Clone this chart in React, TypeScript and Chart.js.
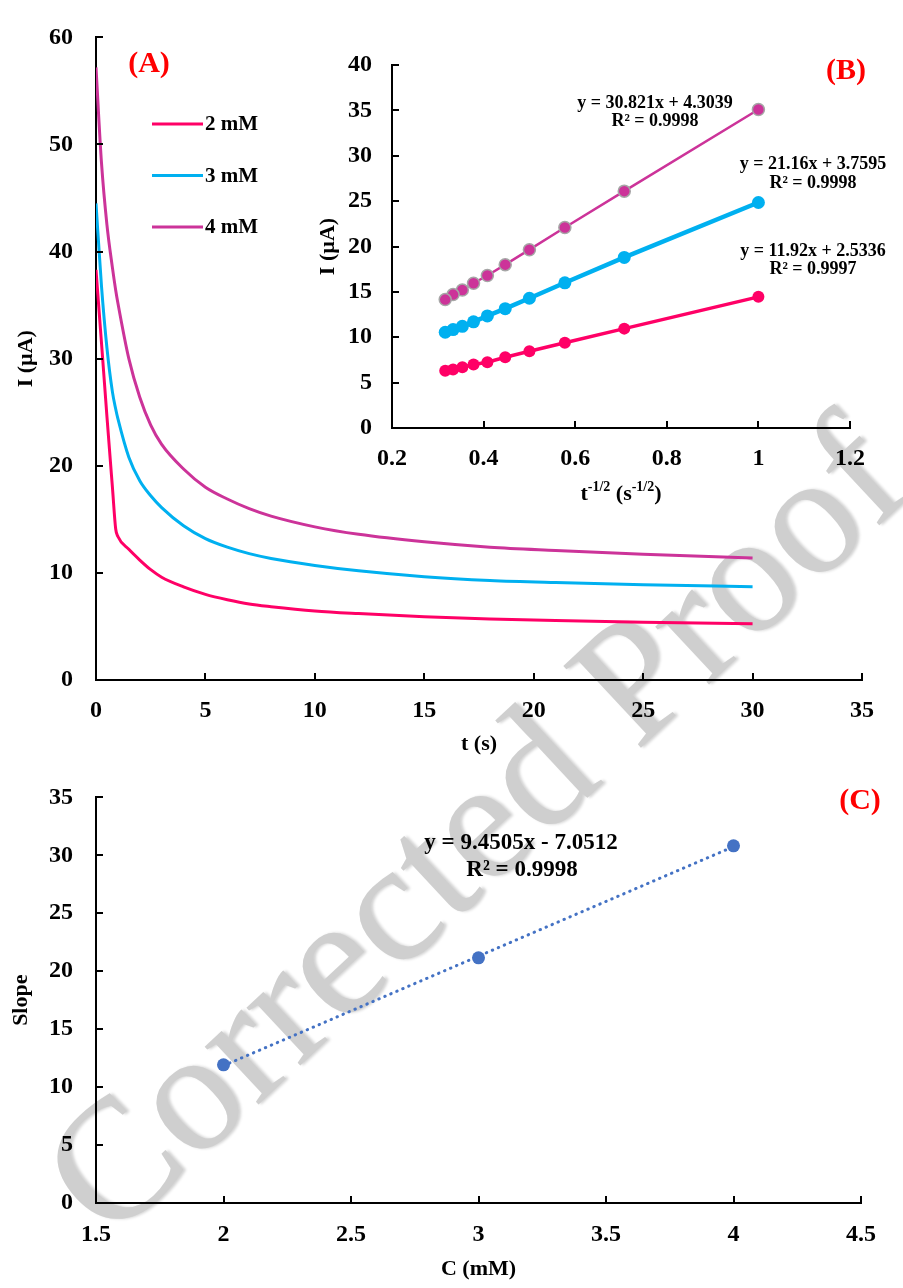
import React, { useEffect, useRef } from 'react';
import { Chart, registerables } from 'chart.js';
Chart.register(...registerables);

const FONT = '"Liberation Serif", "Times New Roman", serif';

// ---------- Panel A : chronoamperograms ----------
const seriesLabels = ['2 mM', '3 mM', '4 mM'];
const timeA = [0, 0.25, 0.5, 0.75, 0.9, 1, 1.5, 2, 2.5, 3, 4, 5, 6, 7, 8, 10, 12, 15, 18, 21, 25, 30];
const currentA2mM = [38.3, 31.5, 24.6, 18.0, 14.1, 13.4, 12.2, 11.2, 10.3, 9.6, 8.7, 8.0, 7.5, 7.1, 6.85, 6.45, 6.2, 5.9, 5.7, 5.55, 5.4, 5.25];
const currentA3mM = [44.5, 36.8, 31.0, 26.9, 25.3, 24.4, 20.8, 18.6, 17.2, 16.1, 14.4, 13.2, 12.4, 11.8, 11.35, 10.7, 10.2, 9.65, 9.3, 9.1, 8.9, 8.7];
const currentA4mM = [57.2, 48.3, 42.5, 38.5, 36.4, 35.2, 30.0, 26.4, 23.8, 22.0, 19.7, 18.0, 16.9, 16.0, 15.3, 14.3, 13.6, 12.9, 12.4, 12.1, 11.75, 11.4];
const ticksAX = [0, 5, 10, 15, 20, 25, 30, 35];
const ticksAY = [0, 10, 20, 30, 40, 50, 60];

// ---------- Panel B : Cottrell plots ----------
const invSqrtT = [1, 0.7071, 0.5774, 0.5, 0.4472, 0.4082, 0.378, 0.3536, 0.3333, 0.3162];
const currentB2mM = [14.45, 10.95, 9.4, 8.45, 7.8, 7.25, 7.0, 6.7, 6.45, 6.3];
const currentB3mM = [24.85, 18.8, 16.0, 14.3, 13.15, 12.35, 11.7, 11.2, 10.85, 10.55];
const currentB4mM = [35.1, 26.1, 22.1, 19.65, 18.0, 16.8, 15.95, 15.2, 14.7, 14.15];
const fitB = [
  ['y = 30.821x + 4.3039', 'R² = 0.9998'],
  ['y = 21.16x + 3.7595', 'R² = 0.9998'],
  ['y = 11.92x + 2.5336', 'R² = 0.9997'],
];
const ticksBX = [0.2, 0.4, 0.6, 0.8, 1, 1.2];
const ticksBY = [0, 5, 10, 15, 20, 25, 30, 35, 40];

// ---------- Panel C : slope vs concentration ----------
const concC = [2, 3, 4];
const slopeC = [11.92, 21.16, 30.821];
const trendX = [2, 4];
const trendY = [11.85, 30.75];
const fitC = ['y = 9.4505x - 7.0512', 'R² = 0.9998'];
const ticksCX = [1.5, 2, 2.5, 3, 3.5, 4, 4.5];
const ticksCY = [0, 5, 10, 15, 20, 25, 30, 35];

const COL2 = '#FF0066';
const COL3 = '#00B0F0';
const COL4 = '#CC3399';
const BLUE = '#4472C4';

const tickFont = { family: FONT, size: 24, weight: 'bold' as const };
const titleFont = { family: FONT, size: 22, weight: 'bold' as const };

const inwardTicks = {
  id: 'inwardTicks',
  afterDraw(chart: any) {
    const ctx = chart.ctx;
    ctx.save();
    ctx.strokeStyle = '#000';
    ctx.lineWidth = 2;
    Object.values(chart.scales).forEach((s: any) => {
      s.ticks.forEach((_t: any, i: number) => {
        const p = Math.round(s.getPixelForTick(i));
        ctx.beginPath();
        if (s.isHorizontal()) {
          ctx.moveTo(p, s.top);
          ctx.lineTo(p, s.top - 7);
        } else {
          ctx.moveTo(s.right, p);
          ctx.lineTo(s.right + 7, p);
        }
        ctx.stroke();
      });
    });
    ctx.restore();
  },
};

type TextItem = { text: string; x: number; y: number; size: number; color?: string };
function textPlugin(id: string, items: TextItem[]) {
  return {
    id,
    afterDraw(chart: any) {
      const ctx = chart.ctx;
      ctx.save();
      ctx.textAlign = 'center';
      ctx.textBaseline = 'middle';
      items.forEach((it) => {
        ctx.font = `bold ${it.size}px ${FONT}`;
        ctx.fillStyle = it.color || '#000';
        ctx.fillText(it.text, it.x, it.y);
      });
      ctx.restore();
    },
  };
}

const legendA = {
  id: 'legendA',
  afterDraw(chart: any) {
    const ctx = chart.ctx;
    ctx.save();
    chart.data.datasets.forEach((ds: any, i: number) => {
      const y = 124 + i * 51.5;
      ctx.strokeStyle = ds.borderColor;
      ctx.lineWidth = 3;
      ctx.beginPath();
      ctx.moveTo(152, y);
      ctx.lineTo(203, y);
      ctx.stroke();
      ctx.fillStyle = '#000';
      ctx.font = `bold 21px ${FONT}`;
      ctx.textAlign = 'left';
      ctx.textBaseline = 'middle';
      ctx.fillText(ds.label, 205, y + 1);
    });
    ctx.restore();
  },
};

const bXTitle = {
  id: 'bXTitle',
  afterDraw(chart: any) {
    const ctx = chart.ctx;
    const parts = [
      { t: 't', sup: false },
      { t: '-1/2', sup: true },
      { t: ' (s', sup: false },
      { t: '-1/2', sup: true },
      { t: ')', sup: false },
    ];
    const fMain = `bold 22px ${FONT}`;
    const fSup = `bold 14px ${FONT}`;
    ctx.save();
    let w = 0;
    parts.forEach((p) => {
      ctx.font = p.sup ? fSup : fMain;
      w += ctx.measureText(p.t).width;
    });
    const a = chart.chartArea;
    let x = (a.left + a.right) / 2 - w / 2;
    const y = 480;
    ctx.fillStyle = '#000';
    ctx.textAlign = 'left';
    ctx.textBaseline = 'alphabetic';
    parts.forEach((p) => {
      ctx.font = p.sup ? fSup : fMain;
      ctx.fillText(p.t, x, p.sup ? y - 9 : y);
      x += ctx.measureText(p.t).width;
    });
    ctx.restore();
  },
};

function fixedTicks(values: number[]) {
  return (scale: any) => {
    scale.ticks = values.map((v) => ({ value: v }));
  };
}

function axes(opts: {
  xTicks: number[]; yTicks: number[]; yWidth: number; xHeight: number;
  xTitle?: string; yTitle: string; xTitlePad: number; yTitlePad: number;
  xLabelPad: number; yLabelPad: number;
}) {
  const border = { display: true, color: '#000', width: 2 };
  return {
    x: {
      type: 'linear' as const,
      min: opts.xTicks[0],
      max: opts.xTicks[opts.xTicks.length - 1],
      afterBuildTicks: fixedTicks(opts.xTicks),
      afterFit: (s: any) => { s.height = opts.xHeight; },
      grid: { display: false, drawTicks: false },
      border,
      ticks: { color: '#000', font: tickFont, padding: opts.xLabelPad, maxRotation: 0, autoSkip: false, callback: (v: any) => String(v) },
      title: { display: !!opts.xTitle, text: opts.xTitle || '', color: '#000', font: titleFont, padding: { top: 0, bottom: opts.xTitlePad } },
    },
    y: {
      type: 'linear' as const,
      min: opts.yTicks[0],
      max: opts.yTicks[opts.yTicks.length - 1],
      afterBuildTicks: fixedTicks(opts.yTicks),
      afterFit: (s: any) => { s.width = opts.yWidth; },
      grid: { display: false, drawTicks: false },
      border,
      ticks: { color: '#000', font: tickFont, padding: opts.yLabelPad, autoSkip: false, callback: (v: any) => String(v) },
      title: { display: true, text: opts.yTitle, color: '#000', font: titleFont, padding: { top: opts.yTitlePad, bottom: 0 } },
    },
  };
}

const common = {
  responsive: false,
  maintainAspectRatio: false,
  animation: false as const,
  events: [] as any[],
  plugins: { legend: { display: false }, tooltip: { enabled: false } },
};

export default function App() {
  const refA = useRef<HTMLCanvasElement>(null);
  const refB = useRef<HTMLCanvasElement>(null);
  const refC = useRef<HTMLCanvasElement>(null);

  useEffect(() => {
    const mk = (xs: number[], ys: number[]) => xs.map((x, i) => ({ x, y: ys[i] }));

    const chartA = new Chart(refA.current!, {
      type: 'line',
      data: {
        datasets: [
          { label: seriesLabels[0], data: mk(timeA, currentA2mM), borderColor: COL2, borderWidth: 3, pointRadius: 0, cubicInterpolationMode: 'monotone' },
          { label: seriesLabels[1], data: mk(timeA, currentA3mM), borderColor: COL3, borderWidth: 3, pointRadius: 0, cubicInterpolationMode: 'monotone' },
          { label: seriesLabels[2], data: mk(timeA, currentA4mM), borderColor: COL4, borderWidth: 3, pointRadius: 0, cubicInterpolationMode: 'monotone' },
        ],
      },
      options: {
        ...common,
        layout: { padding: { left: 0, top: 17, right: 41, bottom: 0 } },
        scales: axes({ xTicks: ticksAX, yTicks: ticksAY, yWidth: 96, xHeight: 90, xTitle: 't (s)', yTitle: 'I (µA)', xTitlePad: 12, yTitlePad: 13, xLabelPad: 16, yLabelPad: 23 }),
      } as any,
      plugins: [inwardTicks, legendA, textPlugin('txtA', [{ text: '(A)', x: 149, y: 64, size: 30, color: '#FF0000' }])],
    });

    const chartB = new Chart(refB.current!, {
      type: 'line',
      data: {
        datasets: [
          { label: seriesLabels[0], data: mk(invSqrtT, currentB2mM), borderColor: COL2, backgroundColor: COL2, borderWidth: 3.5, pointRadius: 6, pointBorderWidth: 0, pointBackgroundColor: COL2 },
          { label: seriesLabels[1], data: mk(invSqrtT, currentB3mM), borderColor: COL3, backgroundColor: COL3, borderWidth: 4.5, pointRadius: 6.5, pointBorderWidth: 0, pointBackgroundColor: COL3 },
          { label: seriesLabels[2], data: mk(invSqrtT, currentB4mM), borderColor: COL4, backgroundColor: COL4, borderWidth: 2.5, pointRadius: 6, pointBorderWidth: 1.5, pointBorderColor: '#A6A6A6', pointBackgroundColor: COL4 },
        ],
      },
      options: {
        ...common,
        layout: { padding: { left: 0, top: 45, right: 53, bottom: 0 } },
        scales: axes({ xTicks: ticksBX, yTicks: ticksBY, yWidth: 92, xHeight: 92, yTitle: 'I (µA)', xTitlePad: 0, yTitlePad: 15, xLabelPad: 16, yLabelPad: 20 }),
      } as any,
      plugins: [inwardTicks, bXTitle, textPlugin('txtB', [
        { text: fitB[0][0], x: 355, y: 83, size: 18 },
        { text: fitB[0][1], x: 355, y: 101, size: 18 },
        { text: fitB[1][0], x: 513, y: 144, size: 18 },
        { text: fitB[1][1], x: 513, y: 163, size: 18 },
        { text: fitB[2][0], x: 513, y: 231, size: 18 },
        { text: fitB[2][1], x: 513, y: 249, size: 18 },
        { text: '(B)', x: 546, y: 51, size: 30, color: '#FF0000' },
      ])],
    });

    const chartC = new Chart(refC.current!, {
      type: 'line',
      data: {
        datasets: [
          { label: 'Slope', data: mk(concC, slopeC), showLine: false, pointRadius: 6.5, pointBorderWidth: 0, pointBackgroundColor: BLUE, borderColor: BLUE, order: 0 },
          { label: 'Linear (Slope)', data: mk(trendX, trendY), borderColor: BLUE, borderWidth: 3, borderDash: [0.5, 6], borderCapStyle: 'round', pointRadius: 0, order: 1 },
        ],
      },
      options: {
        ...common,
        layout: { padding: { left: 0, top: 33, right: 42, bottom: 0 } },
        scales: axes({ xTicks: ticksCX, yTicks: ticksCY, yWidth: 96, xHeight: 85, xTitle: 'C (mM)', yTitle: 'Slope', xTitlePad: 5, yTitlePad: 8, xLabelPad: 17, yLabelPad: 23 }),
      } as any,
      plugins: [inwardTicks, textPlugin('txtC', [
        { text: fitC[0], x: 521, y: 83, size: 23 },
        { text: fitC[1], x: 522, y: 110, size: 23 },
        { text: '(C)', x: 860, y: 41, size: 30, color: '#FF0000' },
      ])],
    });

    return () => {
      chartA.destroy();
      chartB.destroy();
      chartC.destroy();
    };
  }, []);

  return (
    <div style={{ position: 'absolute', left: 0, top: 0, width: 903, height: 1288, background: '#fff', overflow: 'hidden' }}>
      <div
        style={{
          position: 'absolute', left: 473, top: 825,
          transform: 'translate(-50%, -50%) rotate(-43deg)',
          fontFamily: FONT, fontSize: 172, lineHeight: 1, whiteSpace: 'nowrap',
          color: '#cfcfcf', textShadow: '2px 2px 3px rgba(0,0,0,0.18)',
        }}
      >
        Corrected Proof
      </div>
      <canvas ref={refA} width={903} height={770} style={{ position: 'absolute', left: 0, top: 0 }} />
      <canvas ref={refB} width={603} height={500} style={{ position: 'absolute', left: 300, top: 20 }} />
      <canvas ref={refC} width={903} height={528} style={{ position: 'absolute', left: 0, top: 760 }} />
    </div>
  );
}
